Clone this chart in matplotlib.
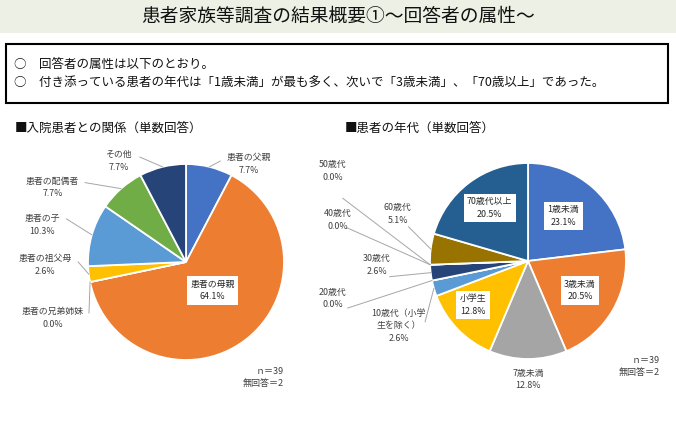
import numpy as np
import matplotlib
matplotlib.use("Agg")
import matplotlib.pyplot as plt
from matplotlib.patches import Rectangle

plt.rcParams['font.family'] = ['Noto Sans CJK JP', 'DejaVu Sans']

# ---- data ----
title = "患者家族等調査の結果概要①～回答者の属性～"
summary = ["○　回答者の属性は以下のとおり。",
           "○　付き添っている患者の年代は「1歳未満」が最も多く、次いで「3歳未満」、「70歳以上」であった。"]

left_title = "■入院患者との関係（単数回答）"
left_labels = ["患者の父親", "患者の母親", "患者の兄弟姉妹", "患者の祖父母", "患者の子", "患者の配偶者", "その他"]
left_values = [7.7, 64.1, 0.0, 2.6, 10.3, 7.7, 7.7]
left_colors = ["#4472C4", "#ED7D31", "#A5A5A5", "#FFC000", "#5B9BD5", "#70AD47", "#264478"]

right_title = "■患者の年代（単数回答）"
right_labels = ["1歳未満", "3歳未満", "7歳未満", "小学生", "10歳代（小学\n生を除く）", "20歳代",
                "30歳代", "40歳代", "50歳代", "60歳代", "70歳代以上"]
right_values = [23.1, 20.5, 12.8, 12.8, 2.6, 0.0, 2.6, 0.0, 0.0, 5.1, 20.5]
right_colors = ["#4472C4", "#ED7D31", "#A5A5A5", "#FFC000", "#5B9BD5", "#70AD47",
                "#264478", "#9E480E", "#636363", "#997300", "#255E91"]

note = "ｎ＝39\n無回答＝2"

# ---- layout (label positions in pie-radius units) ----
left_pos = [(0.64, 1.0), (0.27, -0.29), (-1.36, -0.57), (-1.44, -0.03), (-1.47, 0.38), (-1.36, 0.76), (-0.69, 1.03)]
left_box = [False, True, False, False, False, False, False]
left_lead = [(0.35, 1.03), None, (-0.99, -0.52), (-1.10, 0.0), (-1.22, 0.44), (-1.03, 0.81), (-0.47, 1.07)]

right_pos = [(0.36, 0.46), (0.53, -0.30), (0.0, -1.21), (-0.56, -0.45), (-1.32, -0.66), (-1.99, -0.38),
             (-1.54, -0.04), (-1.94, 0.42), (-1.99, 0.92), (-1.33, 0.48), (-0.39, 0.54)]
right_box = [True, True, False, True, False, False, False, False, False, False, True]
right_lead = [None, None, None, None, (-1.05, -0.62), (-1.84, -0.48), (-1.41, -0.16),
              (-1.85, 0.34), (-1.89, 0.64), (-1.22, 0.35), None]

W, H = 676, 422
fig = plt.figure(figsize=(W / 100, H / 100), dpi=100)
fig.patch.set_facecolor("white")

bg = fig.add_axes([0, 0, 1, 1])
bg.set_xlim(0, W)
bg.set_ylim(H, 0)
bg.axis("off")
bg.add_patch(Rectangle((0, 0), W, 33, facecolor="#EDF0E4", edgecolor="none"))
bg.text(W / 2, 16, title, ha="center", va="center", fontsize=13.5, color="#111111")
bg.add_patch(Rectangle((6, 44), 662, 59, facecolor="white", edgecolor="black", lw=1.5))
bg.text(14, 64, summary[0], ha="left", va="center", fontsize=9.0, color="#111111")
bg.text(14, 83, summary[1], ha="left", va="center", fontsize=9.0, color="#111111")
bg.text(15, 128, left_title, ha="left", va="center", fontsize=9, color="#111111")
bg.text(345, 128, right_title, ha="left", va="center", fontsize=9, color="#111111")

R = 98


def draw_pie(cx, cy, labels, values, colors, pos, box, lead, note_xy):
    ax = fig.add_axes([(cx - R) / W, (H - cy - R) / H, 2 * R / W, 2 * R / H])
    wedges, _ = ax.pie(values, colors=colors, startangle=90, counterclock=False,
                       radius=1.0, wedgeprops=dict(edgecolor="white", linewidth=1.3))
    ax.set_xlim(-1, 1)
    ax.set_ylim(-1, 1)
    ax.set_aspect("equal")
    ax.axis("off")
    for w, lab, v, p, b, ld in zip(wedges, labels, values, pos, box, lead):
        txt = f"{lab}\n{v:.1f}%"
        kw = dict(ha="center", va="center", fontsize=6.4, color="#404040",
                  linespacing=1.5, clip_on=False, zorder=5)
        if b:
            kw["bbox"] = dict(facecolor="white", edgecolor="none", pad=2.5)
            kw["color"] = "#262626"
        ax.text(p[0], p[1], txt, **kw)
        if ld is not None:
            mid = np.deg2rad((w.theta1 + w.theta2) / 2)
            ex, ey = np.cos(mid), np.sin(mid)
            ax.plot([ld[0], ex], [ld[1], ey], color="#A6A6A6", lw=0.7, clip_on=False, zorder=4)
    bg.text(note_xy[0], note_xy[1], note, ha="right", va="center", fontsize=6.5,
            color="#404040", linespacing=1.4)
    return ax


draw_pie(186, 262, left_labels, left_values, left_colors, left_pos, left_box, left_lead, (284, 377))
draw_pie(528, 261, right_labels, right_values, right_colors, right_pos, right_box, right_lead, (660, 366))

fig.savefig("out.png", dpi=100, facecolor="white")
